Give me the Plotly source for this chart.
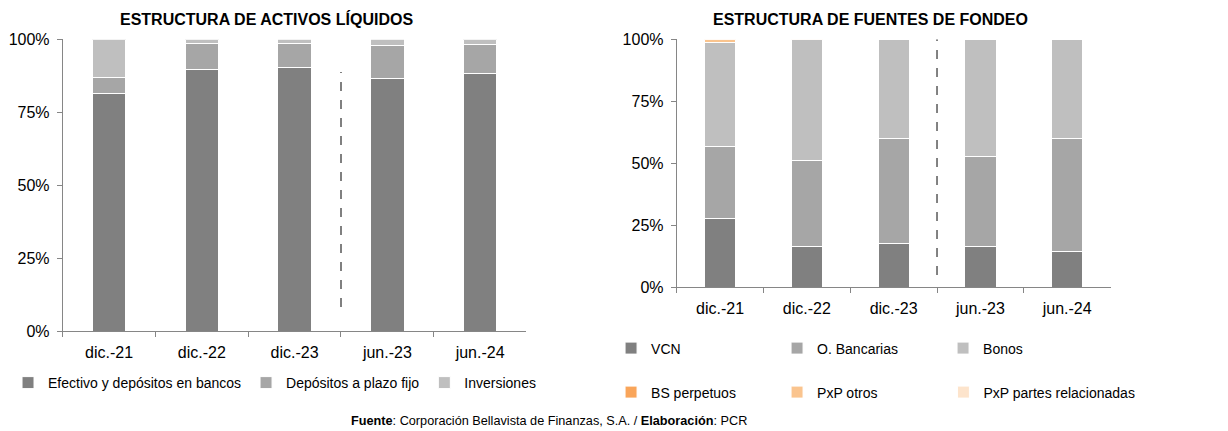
import plotly.graph_objects as go

categories = ["dic.-21", "dic.-22", "dic.-23", "jun.-23", "jun.-24"]

# Left chart: Estructura de activos líquidos (%)
efectivo = [81.6, 89.5, 90.3, 86.5, 88.2]
depositos = [5.2, 8.9, 8.2, 11.3, 10.1]
inversiones = [13.2, 1.6, 1.5, 2.2, 1.7]

# Right chart: Estructura de fuentes de fondeo (%)
vcn = [27.8, 16.3, 17.5, 16.4, 14.5]
o_bancarias = [28.9, 35.0, 42.6, 36.5, 45.6]
bonos = [42.1, 48.6, 39.9, 47.1, 39.9]
bs_perpetuos = [0.0, 0.0, 0.0, 0.0, 0.0]
pxp_otros = [1.0, 0.1, 0.0, 0.0, 0.0]
pxp_relacionadas = [0.2, 0.0, 0.0, 0.0, 0.0]

tick_vals = [0, 25, 50, 75, 100]
tick_text = ["0%", "25%", "50%", "75%", "100%"]

left_names = ["Efectivo y depósitos en bancos", "Depósitos a plazo fijo", "Inversiones"]
right_names = ["VCN", "O. Bancarias", "Bonos", "BS perpetuos", "PxP otros", "PxP partes relacionadas"]

FONT = "Arial, Liberation Sans, sans-serif"
# The page body has a default 8px margin, so the figure is sized to fill the rest of the window
OX, OY = 8, 8
W, H = 1228 - OX, 431 - OY

fig = go.Figure()

left_series = [efectivo, depositos, inversiones]
left_colors = ["#808080", "#A6A6A6", "#BFBFBF"]
for name, vals, col in zip(left_names, left_series, left_colors):
    fig.add_trace(go.Bar(x=categories, y=vals, name=name, marker_color=col,
                         marker_line_color="white", marker_line_width=1,
                         xaxis="x", yaxis="y", legend="legend"))

right_series = [vcn, o_bancarias, bonos, bs_perpetuos, pxp_otros, pxp_relacionadas]
right_colors = ["#808080", "#A6A6A6", "#BFBFBF", "#F9A55A", "#FAC48E", "#FDE4CC"]
right_legends = ["legend2", "legend2", "legend2", "legend3", "legend3", "legend4"]
for name, vals, col, lg in zip(right_names, right_series, right_colors, right_legends):
    fig.add_trace(go.Bar(x=categories, y=vals, name=name, marker_color=col,
                         marker_line_color="white", marker_line_width=1,
                         xaxis="x2", yaxis="y2", legend=lg))

def px_x(p):
    return (p - OX) / W

def px_y(p):
    return 1 - (p - OY) / H

axis_common = dict(showline=True, linecolor="#868686", linewidth=1, showgrid=False,
                   zeroline=False, ticks="outside", ticklen=5, tickcolor="#868686",
                   automargin=False,
                   tickfont=dict(family=FONT, size=16, color="#000000"))

legend_font = dict(family=FONT, size=14, color="#000000")
legend_common = dict(orientation="h", xanchor="left", yanchor="middle", font=legend_font,
                     traceorder="normal", bgcolor="rgba(0,0,0,0)", borderwidth=0)

fig.update_layout(
    template="none",
    width=W, height=H,
    margin=dict(l=0, r=0, t=0, b=0, pad=0),
    paper_bgcolor="white", plot_bgcolor="white",
    barmode="stack", bargap=0.64,
    font=dict(family=FONT, color="#000000"),
    xaxis=dict(domain=[px_x(57), px_x(523)], anchor="y", tickson="boundaries",
               ticklabelstandoff=6, **axis_common),
    yaxis=dict(domain=[px_y(331.3), px_y(39.3)], anchor="x", range=[0, 100],
               tickvals=tick_vals, ticktext=tick_text, ticklabelstandoff=4, **axis_common),
    xaxis2=dict(domain=[px_x(674), px_x(1110)], anchor="y2", tickson="boundaries",
                ticklabelstandoff=6, **axis_common),
    yaxis2=dict(domain=[px_y(287.3), px_y(39.3)], anchor="x2", range=[0, 100],
                tickvals=tick_vals, ticktext=tick_text, ticklabelstandoff=4, **axis_common),
    legend=dict(x=px_x(2), y=px_y(383), **legend_common),
    legend2=dict(x=px_x(608), y=px_y(348.5), entrywidth=121, entrywidthmode="pixels",
                 **legend_common),
    legend3=dict(x=px_x(608), y=px_y(392.5), entrywidth=121, entrywidthmode="pixels",
                 **legend_common),
    legend4=dict(x=px_x(942), y=px_y(392.5), **legend_common),
    showlegend=True,
)

# Dashed separators between December and June periods
fig.add_shape(type="line", xref="x", yref="y", x0=2.5, x1=2.5, y0=8.3, y1=88.8,
              line=dict(color="#808080", width=2, dash="dash"))
fig.add_shape(type="line", xref="x2", yref="y2", x0=2.5, x1=2.5, y0=5, y1=100,
              line=dict(color="#808080", width=2, dash="dash"))

# Titles
fig.add_annotation(text="<b>ESTRUCTURA DE ACTIVOS LÍQUIDOS</b>", xref="paper", yref="paper",
                   x=px_x(262), y=px_y(19), xanchor="center", yanchor="middle", showarrow=False,
                   font=dict(family=FONT, size=16, color="#000000"))
fig.add_annotation(text="<b>ESTRUCTURA DE FUENTES DE FONDEO</b>", xref="paper", yref="paper",
                   x=px_x(869), y=px_y(19), xanchor="center", yanchor="middle", showarrow=False,
                   font=dict(family=FONT, size=16, color="#000000"))

# Footer
fig.add_annotation(text="<b>Fuente</b>: Corporación Bellavista de Finanzas, S.A. / <b>Elaboración</b>: PCR",
                   xref="paper", yref="paper", x=px_x(546), y=px_y(421), xanchor="center",
                   yanchor="middle", showarrow=False,
                   font=dict(family=FONT, size=12.7, color="#000000"))

fig.write_html("out.html")
